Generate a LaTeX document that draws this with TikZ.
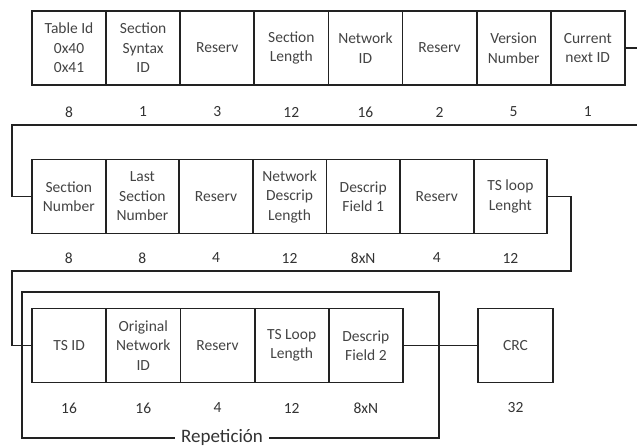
\documentclass[tikz,border=0pt]{standalone}
\usepackage{fontspec}
\setmainfont{Carlito}
\definecolor{linec}{HTML}{222222}
\definecolor{txt}{HTML}{444444}
\definecolor{num}{HTML}{333333}
\begin{document}
\begin{tikzpicture}[x=1pt,y=-1pt,
  field/.style={draw=linec, line width=1.8pt, minimum width=#1, minimum height=74pt,
    inner sep=0pt, align=center, text=txt, font=\fontsize{15.5}{19.5}\selectfont},
  bits/.style={text=num, inner sep=0pt, font=\fontsize{15.5}{18}\selectfont},
  wire/.style={draw=linec, line width=1.8pt},
  looplabel/.style={text=num, fill=white, inner xsep=6pt, inner ysep=2pt,
    font=\fontsize{19}{22}\selectfont}]
\useasboundingbox (0,0) rectangle (637,446);
\clip (0,0) rectangle (637,446);
\fill[white] (0,0) rectangle (637,446);

% first row of header fields
\foreach \t/\b [count=\i] in {{Table Id\\0x40\\0x41}/8, {Section\\Syntax\\ID}/1, Reserv/3,
    {Section\\Length}/12, {Network\\ID}/16, Reserv/2, {Version\\Number}/5, {Current\\next ID}/1}{
  \node[field=74.1pt] (r1c\i) at ({32+(\i-0.5)*74.1},48) {\t};
  \node[bits] (n1c\i) at ({32+(\i-0.5)*74.1},112) {\b};
}

% second row
\foreach \t/\b [count=\i] in {{Section\\Number}/8, {Last\\Section\\Number}/8, Reserv/4,
    {Network\\Descrip\\Length}/12, {Descrip\\Field 1}/8xN, Reserv/4, {TS loop\\Lenght}/12}{
  \node[field=73.6pt] (r2c\i) at ({32+(\i-0.5)*73.6},196.5) {\t};
  \node[bits] (n2c\i) at ({32+(\i-0.5)*73.6},258) {\b};
}

% transport stream loop
\foreach \t/\b [count=\i] in {{TS ID}/16, {Original\\Network\\ID}/16, Reserv/4,
    {TS Loop\\Length}/12, {Descrip\\Field 2}/8xN}{
  \node[field=74.2pt] (r3c\i) at ({32+(\i-0.5)*74.2},345.5) {\t};
  \node[bits] (n3c\i) at ({32+(\i-0.5)*74.2},408) {\b};
}
\node[field=75pt] (crc) at (515.5,345.5) {CRC};
\node[bits] (ncrc) at (515.5,408) {32};

% row links
\coordinate (k1) at (12,125);
\coordinate (k2) at (12,271);
\draw[wire] (r1c8.east) -- ++(40,0) |- (k1) |- (r2c1.west);
\draw[wire] (r2c7.east) -- ++(23,0) |- (k2) |- (r3c1.west);
\draw[wire] (r3c5.east) -- (crc.west);

% repetition bracket
\coordinate (bA) at (22,292);
\coordinate (bB) at (439,438);
\draw[wire] (bA) rectangle (bB);
\node[looplabel] (rep) at (222,437) {Repetición};
\end{tikzpicture}
\end{document}
